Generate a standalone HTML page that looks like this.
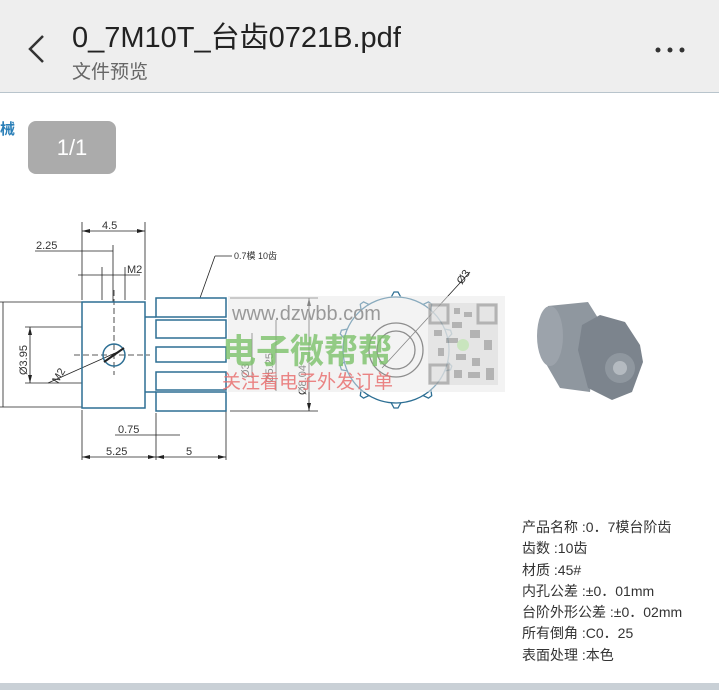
<!DOCTYPE html>
<html><head><meta charset="utf-8"><style>
body{margin:0;width:719px;height:690px;overflow:hidden;background:#fff;font-family:"Liberation Sans","Noto Sans CJK SC",sans-serif;position:relative}
.hdr{position:absolute;left:0;top:0;width:719px;height:92px;background:#eeeeee;border-bottom:1px solid #b8c4cc}
.t{position:absolute;left:72px;top:14px;font-size:29px;color:#222}
.s{position:absolute;left:72px;top:57px;font-size:19px;color:#666}
.badge{position:absolute;left:28px;top:121px;width:88px;height:53px;background:#ababab;border-radius:8px;color:#fff;font-size:22px;text-align:center;line-height:53px}
.spec{position:absolute;left:522px;top:517px;font-size:14px;line-height:21.3px;color:#333;font-family:"Liberation Sans","Noto Sans CJK SC",sans-serif}
.bot{position:absolute;left:0;top:683px;width:719px;height:7px;background:#c9d0d6}
</style></head><body>
<div class="hdr"></div>
<svg style="position:absolute;left:0;top:0" width="719" height="92"><polyline points="43,36 30,49 43,62" fill="none" stroke="#333" stroke-width="2.5"/><circle cx="658" cy="50" r="2.5" fill="#333"/><circle cx="670" cy="50" r="2.5" fill="#333"/><circle cx="682" cy="50" r="2.5" fill="#333"/></svg>
<div class="t">0_7M10T_台齿0721B.pdf</div>
<div class="s">文件预览</div>
<div style="position:absolute;left:0;top:118px;font-size:15px;color:#2a7fb8;font-weight:bold">械</div>
<div class="badge">1/1</div>
<svg style="position:absolute;left:0;top:0" width="719" height="690" font-family="Liberation Sans, Noto Sans CJK SC, sans-serif">
<g stroke="#222" stroke-width="0.8" fill="none">
<line x1="82" y1="222" x2="82" y2="300"/><line x1="145" y1="222" x2="145" y2="300"/>
<line x1="82" y1="231" x2="145" y2="231"/>
<line x1="35" y1="251" x2="113" y2="251"/><line x1="113" y1="245" x2="113" y2="302"/>
<line x1="78" y1="275" x2="140" y2="275"/><line x1="102" y1="267" x2="102" y2="300"/><line x1="125" y1="267" x2="125" y2="300"/>
<line x1="0" y1="302" x2="82" y2="302"/><line x1="0" y1="407" x2="82" y2="407"/><line x1="3" y1="302" x2="3" y2="407"/>
<line x1="25" y1="327" x2="82" y2="327"/><line x1="25" y1="383" x2="82" y2="383"/><line x1="30" y1="327" x2="30" y2="383"/>
<line x1="48" y1="383" x2="122" y2="350"/>
<line x1="74" y1="355" x2="150" y2="355" stroke-dasharray="6,3"/>
<line x1="114" y1="290" x2="114" y2="375" stroke-dasharray="6,3"/>
<line x1="82" y1="410" x2="82" y2="460"/><line x1="226" y1="410" x2="226" y2="460"/><line x1="156" y1="413" x2="156" y2="460"/>
<line x1="82" y1="457" x2="226" y2="457"/>
<line x1="115" y1="435" x2="180" y2="435"/>
<line x1="200" y1="298" x2="215" y2="256"/><line x1="215" y1="256" x2="232" y2="256"/>
<line x1="230" y1="298" x2="318" y2="298"/><line x1="230" y1="411" x2="318" y2="411"/><line x1="309" y1="298" x2="309" y2="411"/>
<line x1="276" y1="320" x2="276" y2="391"/><line x1="252" y1="333" x2="252" y2="378"/>
</g>
<g fill="#222">
<polygon points="82,231 90,229 90,233"/><polygon points="145,231 137,229 137,233"/>
<polygon points="309,298 307,306 311,306"/><polygon points="309,411 307,403 311,403"/>
<polygon points="82,457 90,455 90,459"/><polygon points="226,457 218,455 218,459"/><polygon points="156,457 148,455 148,459"/><polygon points="156,457 164,455 164,459"/>
<polygon points="30,327 28,335 32,335"/><polygon points="30,383 28,375 32,375"/>
</g>
<g stroke="#2d6f94" stroke-width="1.5" fill="none">
<rect x="82" y="302" width="63" height="106"/>
<circle cx="114" cy="355" r="11"/>
<rect x="156" y="298" width="70" height="19"/><rect x="156" y="320" width="70" height="18"/>
<rect x="156" y="347" width="70" height="15"/><rect x="156" y="372" width="70" height="18"/><rect x="156" y="392" width="70" height="19"/>
<line x1="145" y1="317" x2="156" y2="317"/><line x1="145" y1="392" x2="156" y2="392"/>
</g>
<line x1="104" y1="362" x2="124" y2="348" stroke="#222" stroke-width="2"/>
<g font-size="11" fill="#333">
<text x="102" y="229">4.5</text><text x="36" y="249">2.25</text><text x="127" y="273">M2</text>
<text x="234" y="259" font-size="9">0.7模 10齿</text>
<text x="118" y="433">0.75</text><text x="106" y="455">5.25</text><text x="186" y="455">5</text>
<text transform="translate(27,375) rotate(-90)">Ø3.95</text>
<text transform="translate(58,384) rotate(-60)">M2</text>
<text transform="translate(249,378) rotate(-90)">Ø3</text>
<text transform="translate(273,383) rotate(-90)">Ø5.25</text>
<text transform="translate(306,395) rotate(-90)">Ø8.04</text>
<text transform="translate(462,285) rotate(-55)">Ø3</text>
</g>
<g stroke="#2d6f94" stroke-width="1.3" fill="none">
<circle cx="396" cy="350" r="53"/>
<circle cx="396" cy="350" r="27" stroke="#333"/><circle cx="396" cy="350" r="19" stroke="#333"/>
<g id="th"><polyline points="391,297.5 394,292 398,292 401,297.5"/></g>
<use href="#th" transform="rotate(36 396 350)"/><use href="#th" transform="rotate(72 396 350)"/><use href="#th" transform="rotate(108 396 350)"/><use href="#th" transform="rotate(144 396 350)"/><use href="#th" transform="rotate(180 396 350)"/><use href="#th" transform="rotate(216 396 350)"/><use href="#th" transform="rotate(252 396 350)"/><use href="#th" transform="rotate(288 396 350)"/><use href="#th" transform="rotate(324 396 350)"/>
</g>
<line x1="382" y1="368" x2="470" y2="272" stroke="#222" stroke-width="0.8"/>
<rect x="228" y="296" width="277" height="96" fill="#e8e8e8" opacity="0.5"/>
<g opacity="0.7">
<rect x="428" y="303" width="70" height="82" fill="#e0e0e0"/>
<g fill="#999">
<rect x="430" y="305" width="18" height="18" fill="none" stroke="#999" stroke-width="3"/>
<rect x="478" y="305" width="18" height="18" fill="none" stroke="#999" stroke-width="3"/>
<rect x="430" y="365" width="18" height="18" fill="none" stroke="#999" stroke-width="3"/>
<rect x="454" y="308" width="6" height="6"/><rect x="464" y="312" width="8" height="5"/><rect x="452" y="322" width="10" height="6"/>
<rect x="434" y="330" width="8" height="6"/><rect x="446" y="338" width="12" height="5"/><rect x="470" y="330" width="10" height="8"/>
<rect x="484" y="340" width="8" height="10"/><rect x="438" y="348" width="6" height="8"/><rect x="456" y="354" width="10" height="6"/>
<rect x="472" y="358" width="8" height="8"/><rect x="454" y="370" width="8" height="8"/><rect x="468" y="372" width="12" height="6"/><rect x="486" y="368" width="8" height="12"/>
</g>
<circle cx="463" cy="345" r="6" fill="#b8e0a8"/>
</g>
<text x="232" y="320" font-size="20" fill="#999">www.dzwbb.com</text>
<text x="222" y="363" font-size="34" font-weight="bold" fill="#7cc26a" opacity="0.8">电子微帮帮</text>
<text x="222" y="388" font-size="19" fill="#e97070" opacity="0.85">关注看电子外发订单</text>
<path d="M548,306 L588,302 L598,318 L590,392 L560,388 L545,362 Z" fill="#8f979f"/>
<ellipse cx="550" cy="336" rx="13" ry="30" fill="#9ca3ab"/>
<path d="M582,325 L600,315 L625,322 L640,345 L643,362 L632,392 L612,400 L588,388 L578,350 Z" fill="#7c848d"/>
<circle cx="620" cy="368" r="15" fill="#8f979f"/><circle cx="620" cy="368" r="7" fill="#b4bac0"/>
</svg>
<div class="spec">产品名称 :0．7模台阶齿<br>齿数 :10齿<br>材质 :45#<br>内孔公差 :±0．01mm<br>台阶外形公差 :±0．02mm<br>所有倒角 :C0．25<br>表面处理 :本色</div>
<div class="bot"></div>
</body></html>
